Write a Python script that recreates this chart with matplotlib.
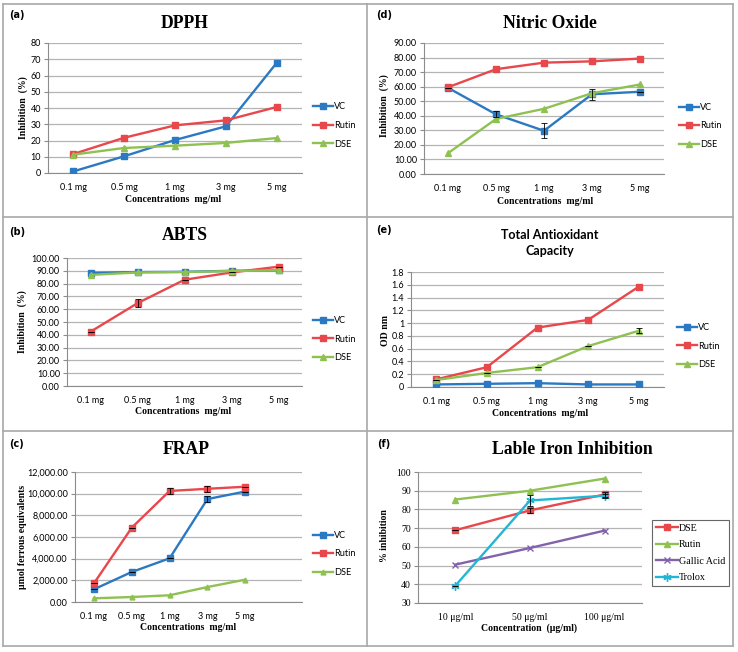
import matplotlib
matplotlib.use('Agg')
import matplotlib.pyplot as plt
from matplotlib.lines import Line2D
from matplotlib.ticker import FuncFormatter

# data
conc = ['0.1 mg', '0.5 mg', '1 mg', '3 mg', '5 mg']

dpph_vc = [1.0, 10.3, 20.3, 28.7, 67.7]
dpph_rutin = [11.7, 21.7, 29.3, 32.4, 40.6]
dpph_dse = [11.3, 15.4, 16.8, 18.5, 21.5]

abts_vc = [88.3, 89.0, 89.2, 90.0, 90.3]
abts_rutin = [42.4, 64.7, 83.0, 88.7, 93.2]
abts_dse = [86.8, 88.7, 89.0, 89.8, 90.4]
abts_rutin_err = [0, 3.0, 0, 0, 0]

frap_vc = [1170, 2770, 4030, 9500, 10200]
frap_rutin = [1720, 6860, 10250, 10450, 10640]
frap_dse = [340, 460, 620, 1380, 2060]
frap_vc_err = [0, 0, 0, 300, 0]
frap_rutin_err = [0, 0, 300, 250, 0]

no_vc = [59.2, 41.0, 29.7, 54.8, 56.5]
no_rutin = [59.6, 72.0, 76.5, 77.4, 79.3]
no_dse = [14.3, 37.8, 44.8, 55.5, 61.5]
no_vc_err = [0, 2.0, 5.0, 3.8, 0]

tac_vc = [0.04, 0.05, 0.06, 0.04, 0.04]
tac_rutin = [0.12, 0.31, 0.93, 1.05, 1.57]
tac_dse = [0.11, 0.22, 0.31, 0.64, 0.88]
tac_dse_err = [0, 0, 0, 0, 0.04]

iron_conc = ['10 μg/ml', '50 μg/ml', '100 μg/ml']
iron_dse = [68.9, 79.5, 88.0]
iron_rutin = [85.3, 90.0, 96.5]
iron_gallic = [50.5, 59.4, 68.7]
iron_trolox = [39.2, 84.8, 87.3]
iron_dse_err = [0, 1.5, 1.5]
iron_trolox_err = [0, 3.0, 1.0]

BLUE = '#2b79c2'
RED = '#e8474b'
GREEN = '#8fc152'
PURPLE = '#8262aa'
CYAN = '#22b6d6'
GRID = '#b4b4b4'

W, H = 738, 652
fig = plt.figure(figsize=(W / 100, H / 100), dpi=100)


def fx(x):
    return x / W


def fy(y):
    return 1 - y / H


def make_axes(x0, y0, x1, y1):
    ax = fig.add_axes([fx(x0), fy(y1), (x1 - x0) / W, (y1 - y0) / H])
    for s in ['top', 'right']:
        ax.spines[s].set_visible(False)
    ax.spines['left'].set_color('#8c8c8c')
    ax.spines['bottom'].set_color('#8c8c8c')
    ax.spines['left'].set_linewidth(0.8)
    ax.spines['bottom'].set_linewidth(0.8)
    ax.yaxis.grid(True, color=GRID, linewidth=0.9)
    ax.set_axisbelow(True)
    ax.tick_params(axis='y', length=3, color='#8c8c8c', labelsize=6.5, pad=2)
    ax.tick_params(axis='x', length=0, labelsize=6.5, pad=7)
    return ax


def plot_series(ax, x, y, color, marker, label, err=None, ms=4):
    ax.plot(x, y, color=color, lw=1.7, marker=marker, ms=ms, mew=1.0,
            mfc=color, mec=color, label=label, zorder=3)
    if err is not None:
        ax.errorbar(x, y, yerr=err, fmt='none', ecolor='black', elinewidth=0.6,
                    capsize=2, capthick=0.6, zorder=4)


def sans_ticks(ax, labels, xmax):
    ax.set_xticks(range(len(labels)))
    ax.set_xticklabels(labels, fontfamily='Lato', fontsize=6.5)
    ax.set_xlim(-0.5, xmax)
    for lab in ax.get_yticklabels():
        lab.set_fontfamily('Lato')
        lab.set_fontsize(6.5)


def side_legend(ax, x, y):
    h, l = ax.get_legend_handles_labels()
    fig.legend(handles=h, labels=l,
               loc='center left', bbox_to_anchor=(fx(x), fy(y)), frameon=False,
               prop={'family': 'Lato', 'size': 6.6}, handlelength=2.2, handletextpad=0.1,
               labelspacing=1.05, borderpad=0, borderaxespad=0)


def title(x, y, s, size=12.7):
    fig.text(fx(x), fy(y), s, ha='center', va='center', fontfamily='Liberation Serif',
             fontweight='bold', fontsize=size)


def xlab(x, y, s):
    fig.text(fx(x), fy(y), s, ha='center', va='center', fontfamily='Liberation Serif',
             fontweight='bold', fontsize=7)


def ylab(x, y, s):
    fig.text(fx(x), fy(y), s, ha='center', va='center', rotation=90,
             fontfamily='Liberation Serif', fontweight='bold', fontsize=7)


def panel_tag(x, y, s):
    fig.text(fx(x), fy(y), s, ha='center', va='center', fontfamily='DejaVu Sans',
             fontweight='bold', fontsize=7)


xs = list(range(len(conc)))

# (a) DPPH
ax = make_axes(48, 43, 302, 173)
plot_series(ax, xs, dpph_vc, BLUE, 's', 'VC')
plot_series(ax, xs, dpph_rutin, RED, 's', 'Rutin')
plot_series(ax, xs, dpph_dse, GREEN, '^', 'DSE')
ax.set_ylim(0, 80)
ax.set_yticks(range(0, 81, 10))
sans_ticks(ax, conc, 4.5)
side_legend(ax, 313, 125.5)
title(185, 23, 'DPPH')
xlab(173, 200, 'Concentrations  mg/ml')
ylab(23, 108, 'Inhibition  (%)')
panel_tag(17, 15, '(a)')

# (b) ABTS
ax = make_axes(67, 258, 302, 386)
plot_series(ax, xs, abts_vc, BLUE, 's', 'VC')
plot_series(ax, xs, abts_rutin, RED, 's', 'Rutin', abts_rutin_err)
plot_series(ax, xs, abts_dse, GREEN, '^', 'DSE')
ax.set_ylim(0, 100)
ax.set_yticks(range(0, 101, 10))
ax.yaxis.set_major_formatter(FuncFormatter(lambda v, p: '%.2f' % v))
sans_ticks(ax, conc, 4.5)
side_legend(ax, 313, 339)
title(185, 236, 'ABTS')
xlab(183, 412, 'Concentrations  mg/ml')
ylab(22, 322, 'Inhibition  (%)')
panel_tag(17, 232, '(b)')

# (c) FRAP
ax = make_axes(75, 472, 302, 602)
plot_series(ax, xs, frap_vc, BLUE, 's', 'VC', frap_vc_err)
plot_series(ax, xs, frap_rutin, RED, 's', 'Rutin', frap_rutin_err)
plot_series(ax, xs, frap_dse, GREEN, '^', 'DSE', ms=3.5)
ax.set_ylim(0, 12000)
ax.set_yticks(range(0, 12001, 2000))
ax.yaxis.set_major_formatter(FuncFormatter(lambda v, p: '{:,.2f}'.format(v)))
sans_ticks(ax, conc, 5.5)
side_legend(ax, 313, 554)
title(186, 450, 'FRAP')
xlab(188, 628, 'Concentrations  mg/ml')
ylab(23, 537, 'μmol ferrous equivalents')
panel_tag(17, 444, '(c)')

# (d) Nitric Oxide
ax = make_axes(424, 43, 664, 174)
plot_series(ax, xs, no_vc, BLUE, 's', 'VC', no_vc_err)
plot_series(ax, xs, no_rutin, RED, 's', 'Rutin', ms=5)
plot_series(ax, xs, no_dse, GREEN, '^', 'DSE')
ax.set_ylim(0, 90)
ax.set_yticks(range(0, 91, 10))
ax.yaxis.set_major_formatter(FuncFormatter(lambda v, p: '%.2f' % v))
sans_ticks(ax, conc, 4.5)
side_legend(ax, 679, 126)
title(550, 23, 'Nitric Oxide')
xlab(545, 201, 'Concentrations  mg/ml')
ylab(384, 106, 'Inhibition  (%)')
panel_tag(384, 15, '(d)')

# (e) Total Antioxidant Capacity
ax = make_axes(411, 272, 664, 387)
plot_series(ax, xs, tac_vc, BLUE, 's', 'VC')
plot_series(ax, xs, tac_rutin, RED, 's', 'Rutin')
plot_series(ax, xs, tac_dse, GREEN, '^', 'DSE', tac_dse_err)
ax.set_ylim(0, 1.8)
ax.set_yticks([0, 0.2, 0.4, 0.6, 0.8, 1.0, 1.2, 1.4, 1.6, 1.8])
ax.yaxis.set_major_formatter(FuncFormatter(lambda v, p: '%g' % round(v, 1)))
sans_ticks(ax, conc, 4.5)
side_legend(ax, 677, 346)
fig.text(fx(550), fy(243), 'Total Antioxidant\nCapacity', ha='center', va='center',
         fontfamily='Lato', fontweight='bold', fontsize=9, linespacing=1.35)
xlab(540, 414, 'Concentrations  mg/ml')
ylab(386, 330, 'OD nm')
panel_tag(384, 230, '(e)')

# (f) Lable Iron Inhibition
xi = list(range(len(iron_conc)))
ax = make_axes(418, 472, 642, 603)
plot_series(ax, xi, iron_dse, RED, 's', 'DSE', iron_dse_err)
plot_series(ax, xi, iron_rutin, GREEN, '^', 'Rutin')
plot_series(ax, xi, iron_gallic, PURPLE, 'x', 'Gallic Acid', ms=5)
plot_series(ax, xi, iron_trolox, CYAN, (6, 2, 0), 'Trolox', iron_trolox_err, ms=6)
ax.set_ylim(30, 100)
ax.set_yticks(range(30, 101, 10))
ax.set_xticks(xi)
ax.set_xticklabels(iron_conc, fontfamily='Liberation Serif', fontsize=7)
ax.set_xlim(-0.5, 2.5)
for lab in ax.get_yticklabels():
    lab.set_fontfamily('Liberation Serif')
    lab.set_fontsize(7)
h, l = ax.get_legend_handles_labels()
leg = fig.legend(handles=h, labels=l,
                 loc='center left', bbox_to_anchor=(fx(652), fy(553)), frameon=True,
                 prop={'family': 'Liberation Serif', 'size': 7.2}, handlelength=2.2,
                 handletextpad=0.1, labelspacing=0.75, borderpad=0.4, borderaxespad=0,
                 fancybox=False)
leg.get_frame().set_edgecolor('#404040')
leg.get_frame().set_linewidth(0.8)
title(572, 450, 'Lable Iron Inhibition')
xlab(529, 628, 'Concentration  (μg/ml)')
ylab(384, 536, '% inhibition')
panel_tag(384, 444, '(f)')

# panel borders
bc = '#a8a8a8'
for x in [3, 367, 733]:
    fig.add_artist(Line2D([fx(x), fx(x)], [fy(4), fy(646)], color=bc, lw=1.2))
for y in [4, 217, 431, 646]:
    fig.add_artist(Line2D([fx(3), fx(733)], [fy(y), fy(y)], color=bc, lw=1.2))

fig.savefig('out.png', dpi=100)
